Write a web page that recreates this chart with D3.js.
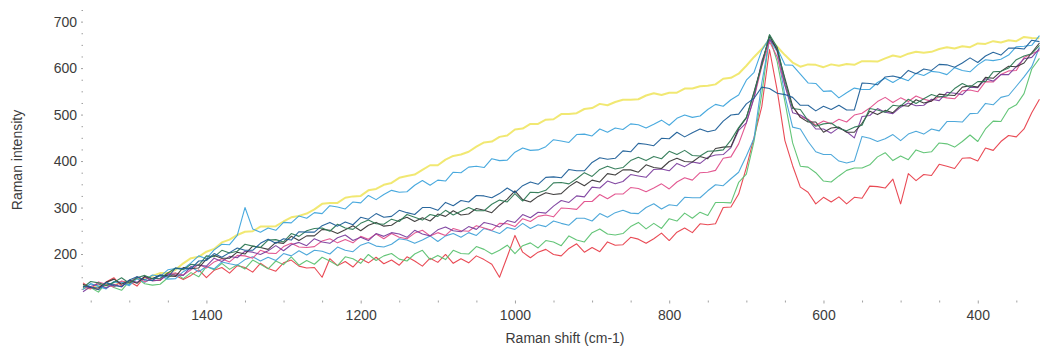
<!DOCTYPE html>
<html><head><meta charset="utf-8">
<script src="https://cdn.jsdelivr.net/npm/d3@7/dist/d3.min.js"></script>
<style>
body{margin:0;background:#fff}
svg{display:block}
text{font-family:"Liberation Sans",Arial,sans-serif}
</style>
</head><body>
<svg id="c" width="1043" height="348"></svg>
<script>
// Raman shift (cm-1) sampled positions
const shifts = [
1560,1550,1540,1530,1520,1510,1500,1490,1480,1470,
1460,1450,1440,1430,1420,1410,1400,1390,1380,1370,
1360,1350,1340,1330,1320,1310,1300,1290,1280,1270,
1260,1250,1240,1230,1220,1210,1200,1190,1180,1170,
1160,1150,1140,1130,1120,1110,1100,1090,1080,1070,
1060,1050,1040,1030,1020,1010,1000,990,980,970,
960,950,940,930,920,910,900,890,880,870,
860,850,840,830,820,810,800,790,780,770,
760,750,740,730,720,710,700,690,680,670,
660,650,640,630,620,610,600,590,580,570,
560,550,540,530,520,510,500,490,480,470,
460,450,440,430,420,410,400,390,380,370,
360,350,340,330,320];

const yellow = [
127,126,134,133,132,140,139,148,146,153,
159,159,166,180,191,194,205,211,225,231,
241,248,249,259,259,260,270,279,282,287,
296,308,310,310,321,324,325,337,340,349,
353,364,368,371,381,391,391,403,411,414,
420,431,440,442,452,455,468,470,480,480,
489,490,501,501,503,512,514,523,520,527,
532,532,533,541,546,542,547,547,556,556,
561,562,565,577,579,588,605,624,641,662,
646,628,612,603,608,607,602,608,605,609,
607,615,615,614,621,627,624,631,635,633,
635,641,645,642,647,645,653,652,658,655,
660,658,667,665,664];

const skyBlue = [
124,136,131,126,141,140,134,151,144,155,
152,166,169,168,181,196,190,209,221,220,
240,300,254,247,256,251,268,267,282,277,
289,287,304,301,297,312,310,326,317,328,
337,333,334,348,358,348,359,357,376,375,
387,389,386,405,401,402,419,428,423,424,
431,446,443,440,457,458,454,469,462,471,
468,480,478,471,479,488,477,492,499,494,
497,511,522,518,532,542,574,591,638,665,
643,607,606,587,568,567,550,551,536,547,
557,554,554,569,578,569,579,573,589,584,
593,591,586,601,595,592,607,618,616,619,
628,646,647,649,670];

const navy = [
130,129,123,139,132,130,144,151,144,143,
155,150,170,169,168,185,186,201,193,203,
213,208,208,223,232,223,233,230,248,247,
247,261,268,260,269,263,279,275,287,279,
281,294,289,285,300,300,294,311,304,315,
312,326,325,321,330,342,332,347,355,350,
365,366,364,382,379,379,397,407,404,406,
422,420,438,436,433,449,448,462,452,461,
469,463,467,486,499,501,523,535,559,556,
546,543,537,520,520,508,518,511,520,510,
510,568,567,564,581,583,579,595,588,598,
595,608,607,602,611,622,612,626,634,628,
643,643,641,660,657];

const darkGreen = [
128,141,138,132,139,149,137,149,154,147,
148,159,170,166,178,176,196,194,208,202,
206,221,217,214,230,231,226,244,238,250,
255,256,249,264,256,253,266,273,265,264,
275,270,285,279,273,285,281,294,284,292,
300,293,293,307,316,312,330,314,333,332,
337,353,354,351,362,375,367,382,389,383,
386,401,408,401,410,405,421,414,423,412,
411,421,422,424,445,472,494,547,607,672,
645,573,513,511,487,475,480,482,470,465,
473,477,513,510,505,520,518,533,524,534,
543,538,540,556,567,559,571,571,592,593,
600,618,626,631,649];

const black = [
135,128,127,139,146,135,143,137,152,147,
155,153,152,171,169,170,189,197,191,191,
204,200,217,214,210,225,223,238,229,239,
239,253,251,244,252,261,250,262,268,260,
262,273,279,270,278,271,286,281,293,284,
286,298,294,289,305,318,336,317,312,324,
332,328,330,345,356,347,359,355,373,370,
381,381,376,392,386,384,399,406,399,398,
410,405,427,430,431,470,493,549,608,670,
638,578,518,494,484,484,462,471,473,462,
462,481,507,500,509,504,520,518,532,525,
529,544,542,541,559,562,559,580,578,593,
604,603,611,633,654];

const purple = [
119,130,136,127,135,129,144,139,151,142,
144,156,155,154,173,176,174,191,184,195,
192,206,204,199,207,218,207,220,225,218,
233,226,223,235,241,229,236,229,244,238,
246,243,236,251,243,239,252,258,250,248,
259,253,268,264,258,272,268,285,278,290,
288,303,315,311,325,323,344,342,357,351,
356,371,368,365,382,383,379,395,388,398,
395,408,413,414,429,466,482,537,615,662,
642,563,504,499,489,469,469,460,472,463,
450,496,498,513,505,502,516,525,519,520,
533,530,548,546,543,559,558,577,572,586,
586,603,620,623,642];

const magenta = [
131,125,140,135,129,142,138,151,140,148,
146,158,159,155,166,178,170,183,190,183,
197,196,191,208,202,201,216,223,215,214,
216,228,233,224,231,224,238,232,243,233,
244,236,233,245,251,239,246,240,255,250,
249,261,256,251,266,265,259,276,270,281,
284,280,299,298,296,313,313,328,319,329,
329,343,341,334,342,351,340,355,364,359,
375,376,380,406,409,437,482,536,603,657,
624,563,517,495,490,477,486,480,490,484,
499,503,514,528,537,526,536,528,540,533,
529,539,536,534,551,553,549,571,570,586,
594,595,623,631,638];

const lowerBlue = [
124,136,130,125,140,138,132,147,139,148,
153,146,147,162,172,162,173,168,183,179,
176,188,194,185,193,186,201,196,207,198,
208,206,200,215,208,205,219,225,217,215,
221,233,230,223,230,239,227,239,244,236,
246,240,255,250,244,257,253,266,255,263,
259,271,266,262,277,277,271,287,279,289,
294,288,287,300,308,297,306,304,322,321,
321,336,349,347,362,376,411,449,568,662,
635,541,473,469,442,420,414,414,400,396,
400,453,449,442,448,457,444,458,464,458,
469,465,485,485,484,502,503,524,521,537,
541,561,581,603,645];

const green = [
132,128,118,138,128,122,141,148,136,133,
135,149,159,147,160,151,173,166,180,167,
177,168,187,178,168,185,177,194,176,186,
178,193,185,175,194,190,180,199,186,196,
201,189,185,200,208,188,197,188,208,201,
200,216,210,200,208,219,201,218,224,213,
229,226,218,239,230,226,246,254,243,241,
244,259,268,254,266,255,276,271,288,277,
290,283,311,311,310,354,372,443,544,668,
614,528,439,389,387,375,357,355,368,380,
385,385,392,409,418,401,411,403,424,418,
420,439,437,430,442,456,442,469,486,485,
512,521,545,598,621];

const red = [
138,127,124,140,149,131,141,131,151,143,
143,159,154,145,154,166,149,165,171,159,
175,171,161,180,169,163,181,187,174,170,
171,150,190,175,184,172,190,181,193,179,
187,176,194,185,174,191,182,199,180,190,
181,196,188,178,150,194,240,204,192,204,
210,199,196,212,222,204,214,205,226,219,
220,236,232,223,233,245,229,247,256,246,
265,263,265,300,301,329,386,451,517,640,
552,444,390,344,333,308,322,312,323,308,
322,320,346,345,342,361,308,373,358,371,
369,393,389,384,406,407,400,428,423,442,
455,452,469,504,533];

// drawing order (bottom to top) and colours
const seriesList = [yellow, skyBlue, red, green, lowerBlue, magenta, purple, black, darkGreen, navy];
const seriesColors = ["#efe45a", "#3ea4dc", "#e8404c", "#5cc271", "#45a3d8", "#e2508c", "#7c3f9e", "#3a3838", "#2f7a55", "#1f5f98"];
const seriesWidths = [2, 1.1, 1.1, 1.1, 1.1, 1.1, 1.1, 1.1, 1.1, 1.1];

const xLabelTicks = [1400, 1200, 1000, 800, 600, 400];
const xMinorTicks = [1550,1500,1450,1350,1300,1250,1150,1100,1050,950,900,850,750,700,650,550,500,450,350];
const yLabelTicks = [200, 300, 400, 500, 600, 700];
const yMinorTicks = [125,150,175,225,250,275,325,350,375,425,450,475,525,550,575,625,650,675,725];

const svg = d3.select("#c");
const x = d3.scaleLinear().domain([1560, 318]).range([83, 1041]);
const y = d3.scaleLinear().domain([100, 725]).range([300.5, 10]);

svg.append("defs").append("filter").attr("id", "soft")
  .append("feGaussianBlur").attr("stdDeviation", 0.3);

// axes
const gx = svg.append("g").attr("transform", "translate(0,300.5)")
  .call(d3.axisBottom(x).tickValues(xLabelTicks).tickSize(3).tickPadding(7).tickFormat(d3.format("d")));
const gxm = svg.append("g").attr("transform", "translate(0,300.5)")
  .call(d3.axisBottom(x).tickValues(xMinorTicks).tickSize(2).tickFormat(""));
const gy = svg.append("g").attr("transform", "translate(83,0)")
  .call(d3.axisLeft(y).tickValues(yLabelTicks).tickSize(2).tickPadding(4).tickFormat(d3.format("d")));
const gym = svg.append("g").attr("transform", "translate(83,0)")
  .call(d3.axisLeft(y).tickValues(yMinorTicks).tickSize(1.5).tickFormat(""));
[gx, gxm, gy, gym].forEach(g => {
  g.select(".domain").remove();
  g.selectAll(".tick line").attr("stroke", "#a0a0a0");
  g.selectAll(".tick text").attr("fill", "#3c3c3c").style("font-size", "14px");
});

// spectra
const line = d3.line().x((d, i) => x(shifts[i])).y(d => y(d));
svg.append("g").attr("filter", "url(#soft)")
  .selectAll("path").data(seriesList).join("path")
  .attr("d", d => line(d))
  .attr("fill", "none")
  .attr("stroke", (d, i) => seriesColors[i])
  .attr("stroke-width", (d, i) => seriesWidths[i])
  .attr("stroke-linejoin", "round")
  .attr("opacity", (d, i) => i === 0 ? 0.85 : 0.95);

// axis titles
svg.append("text").attr("x", 565).attr("y", 343).attr("text-anchor", "middle")
  .attr("fill", "#3c3c3c").style("font-size", "14px").text("Raman shift (cm-1)");
svg.append("text").attr("transform", "translate(22,160) rotate(-90)").attr("text-anchor", "middle")
  .attr("fill", "#3c3c3c").style("font-size", "14px").text("Raman intensity");
</script>
</body></html>
